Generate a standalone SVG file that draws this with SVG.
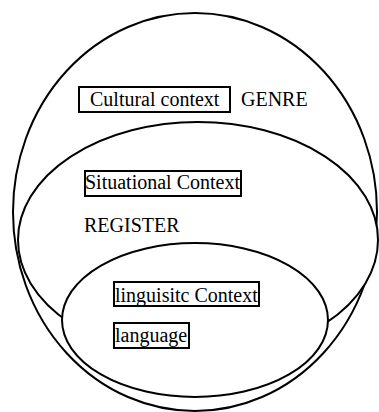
<svg xmlns="http://www.w3.org/2000/svg" width="379" height="412" viewBox="0 0 379 412">
<style>
.e{fill:#fff;stroke:#000;stroke-width:2}
.b{fill:none;stroke:#000;stroke-width:2}
.t{font-family:"Liberation Serif","Times New Roman",serif;font-size:20px;fill:#000}
</style>
<rect width="379" height="412" fill="#fff"/>
<g id="culture">
<ellipse class="e" cx="195" cy="212" rx="182" ry="199"/>
</g>
<g id="situation">
<ellipse class="e" cx="198" cy="240" rx="180" ry="118"/>
</g>
<g id="linguistic">
<ellipse class="e" cx="195" cy="320" rx="133" ry="77"/>
</g>
<g id="cultural-label">
<rect class="b" x="79" y="87" width="151" height="25"/>
<text class="t" x="90" y="106">Cultural context</text>
</g>
<g id="genre-label">
<text class="t" x="241" y="106">GENRE</text>
</g>
<g id="situational-label">
<rect class="b" x="85" y="171" width="156" height="25"/>
<text class="t" x="85" y="189">Situational Context</text>
</g>
<g id="register-label">
<text class="t" x="84" y="232">REGISTER</text>
</g>
<g id="linguistic-label">
<rect class="b" x="114" y="282" width="145" height="24"/>
<text class="t" x="115" y="302">linguisitc Context</text>
</g>
<g id="language-label">
<rect class="b" x="114" y="323" width="75" height="25"/>
<text class="t" x="115" y="342">language</text>
</g>
<g id="connectors"/>
</svg>
